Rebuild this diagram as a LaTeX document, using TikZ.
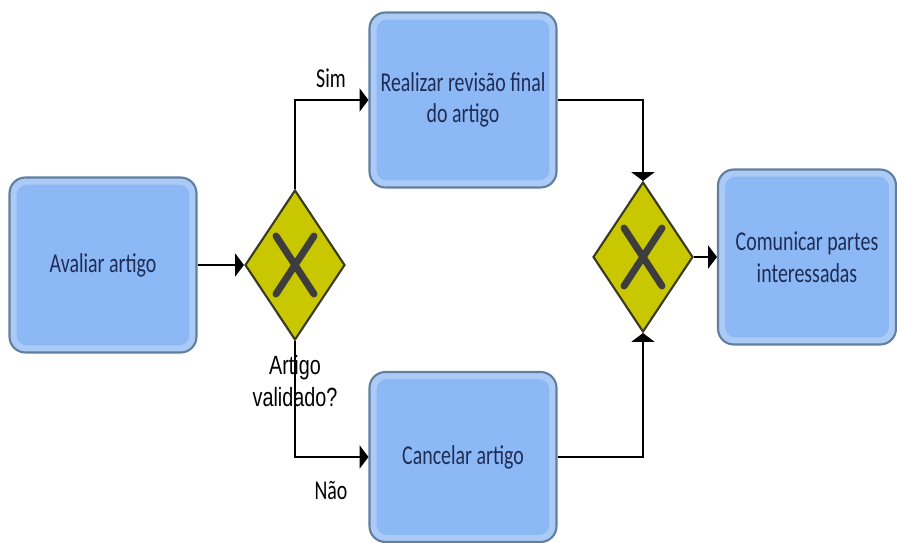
\documentclass[tikz,border=0pt]{standalone}
\usepackage{fontspec}
\setmainfont{Carlito}
\newfontfamily\taskfont{Carlito}[FakeStretch=0.73]
\newfontfamily\gatefont{Liberation Sans}[FakeStretch=0.75]
\usetikzlibrary{shapes.geometric, arrows.meta}
\definecolor{taskfill}{HTML}{8DB8F6}
\definecolor{taskrim}{HTML}{ABCBF6}
\definecolor{taskedge}{HTML}{5F7F9F}
\definecolor{tasktext}{HTML}{1F2D55}
\definecolor{gatefill}{HTML}{C9C800}
\definecolor{gateedge}{HTML}{3A3A20}
\definecolor{gatemark}{HTML}{3D3D3D}

\begin{document}
\begin{tikzpicture}[x=0.02cm, y=-0.02cm,
  task/.style={draw=taskedge, line width=1.2pt, fill=taskrim, rounded corners=9pt,
    minimum width=3.74cm, minimum height=3.5cm, align=center, text=tasktext,
    font=\taskfont\fontsize{15.5}{18}\selectfont,
    path picture={
      \fill[taskfill, rounded corners=6pt]
        ([shift={(4pt,4pt)}]path picture bounding box.south west) rectangle
        ([shift={(-4pt,-4pt)}]path picture bounding box.north east);
    }},
  gate/.style={diamond, draw=gateedge, line width=1.2pt, fill=gatefill,
    minimum width=2cm, minimum height=3cm, inner sep=0pt,
    path picture={
      \draw[gatemark, line width=4pt, line cap=round]
        ([xshift=-0.38cm, yshift=0.58cm]path picture bounding box.center) -- ++(0.76cm,-1.16cm)
        ([xshift=0.38cm, yshift=0.58cm]path picture bounding box.center) -- ++(-0.76cm,-1.16cm);
    }},
  flow/.style={-{Triangle[length=5pt, width=13pt]}, line width=1.1pt},
  tag/.style={font=\taskfont\fontsize{15.5}{18}\selectfont}]
\useasboundingbox (0,0) rectangle (897,542);

\node [task] (avaliar) at (103,265) {Avaliar artigo};
\node [task] (realizar) at (463,100) {Realizar revisão final\\do artigo};
\node [task, minimum height=3.4cm] (cancelar) at (463,457) {Cancelar artigo};
\node [task, minimum width=3.56cm] (comunicar) at (807,257) {Comunicar partes\\interessadas};

\node [gate] (valida) at (295,265) {};
\node [gate] (junta) at (643,257) {};

\node [align=center, font=\gatefont\fontsize{15}{18}\selectfont] (pergunta) at (295,381) {Artigo\\validado?};
\node [tag] (sim) at (331,78) {Sim};
\node [tag] (nao) at (331,490) {Não};

\draw[flow] (avaliar) -- (valida);
\draw[flow] (valida.north) |- (realizar);
\draw[flow] (valida.south) |- (cancelar);
\draw[flow] (realizar.east) -| (junta.north);
\draw[flow] (cancelar.east) -| (junta.south);
\draw[flow] (junta) -- (comunicar);
\end{tikzpicture}
\end{document}
